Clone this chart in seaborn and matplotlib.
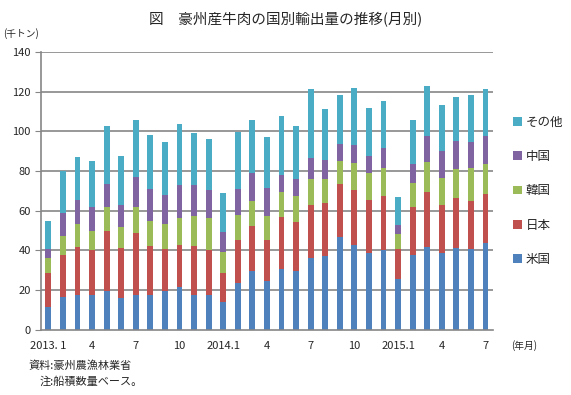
import numpy as np
import pandas as pd
import seaborn as sns
import matplotlib.pyplot as plt

# monthly exports, 2013.1 - 2015.7 (thousand tonnes)
months = [f"{y}.{m}" for y in (2013, 2014, 2015) for m in range(1, 13)][:31]
usa = [11.7, 16.8, 17.8, 17.4, 19.5, 15.8, 17.4, 17.8, 19.5, 21.5, 17.4, 17.4,
       13.8, 23.5, 29.9, 24.8, 30.9, 29.9, 36.4, 37.4, 47.0, 42.6, 38.9, 40.4,
       25.5, 37.6, 41.9, 38.6, 41.4, 40.9, 43.9]
japan = [17.2, 21.1, 24.1, 23.0, 30.5, 25.6, 31.6, 24.6, 21.4, 21.5, 25.0, 23.0,
         15.1, 22.0, 22.6, 20.7, 26.1, 24.6, 26.7, 26.7, 26.7, 28.0, 26.7, 27.2,
         15.4, 24.5, 27.7, 24.5, 25.2, 24.2, 24.7]
korea = [7.5, 9.6, 11.6, 9.6, 12.1, 10.6, 13.1, 12.6, 12.6, 13.5, 15.2, 16.1,
         10.5, 12.6, 12.6, 12.1, 12.6, 13.1, 13.1, 12.1, 11.5, 13.6, 13.6, 14.1,
         7.6, 12.1, 15.1, 13.6, 14.6, 16.6, 15.1]
china = [4.5, 11.6, 12.1, 12.1, 11.6, 11.1, 15.1, 16.1, 14.6, 16.7, 15.6, 14.1,
         10.1, 13.0, 14.1, 14.0, 8.6, 8.6, 10.5, 9.5, 8.6, 9.1, 8.6, 10.1,
         4.2, 9.5, 13.1, 13.6, 14.1, 13.1, 14.1]
other = [14.1, 20.9, 21.6, 23.1, 29.2, 24.7, 28.7, 27.2, 26.7, 30.7, 26.1, 25.7,
         19.6, 28.7, 26.7, 25.7, 29.7, 26.7, 34.8, 25.7, 24.7, 28.7, 24.1, 23.6,
         14.4, 22.2, 25.2, 23.1, 22.1, 23.7, 23.7]

series = ["米国", "日本", "韓国", "中国", "その他"]
colors = ["#4F81BD", "#C0504D", "#9BBB59", "#8064A2", "#4BACC6"]
tick_labels = {0: "2013. 1", 3: "4", 6: "7", 9: "10", 12: "2014.1", 15: "4",
               18: "7", 21: "10", 24: "2015.1", 27: "4", 30: "7"}

df = pd.DataFrame({"month": months, "米国": usa, "日本": japan, "韓国": korea,
                   "中国": china, "その他": other})
cum = df[series].cumsum(axis=1)

sns.set_style("white")
plt.rcParams['font.family'] = ['Noto Sans CJK JP', 'DejaVu Sans']

fig = plt.figure(figsize=(5.71, 3.95), dpi=100)
ax = fig.add_axes([0.072, 0.165, 0.791, 0.703])

# gridlines first, under the bars
for yv in range(20, 141, 20):
    ax.axhline(yv, color="#868686", linewidth=1.2, zorder=1)

# stacked bars: draw cumulative totals from the top series down
for i, (name, col) in enumerate(zip(series[::-1], colors[::-1])):
    sns.barplot(x=df["month"], y=cum[name], color=col, saturation=1,
                width=0.4, ax=ax, label=name, zorder=3 + i, linewidth=0)

ax.set_ylim(0, 140)
ax.set_xlim(-0.5, 30.5)
ax.set_yticks(range(0, 141, 20))
ax.set_xticks(list(tick_labels.keys()))
ax.set_xticklabels(list(tick_labels.values()), fontsize=8)
ax.tick_params(axis="x", length=0, pad=8)
ax.set_xticks(np.arange(-0.5, 31, 1), minor=True)
ax.tick_params(axis="x", which="minor", length=4, color="#868686", width=1)
ax.tick_params(axis="y", length=4, color="#868686", labelsize=8, left=True)
for s in ["top", "right"]:
    ax.spines[s].set_visible(False)
for s in ["left", "bottom"]:
    ax.spines[s].set_color("#868686")
    ax.spines[s].set_linewidth(1.2)
    ax.spines[s].set_zorder(10)
ax.set_xlabel("")
ax.set_ylabel("")

handles, labels = ax.get_legend_handles_labels()
ax.legend(handles, labels, loc="center left", bbox_to_anchor=(1.02, 0.5),
          frameon=False, fontsize=9, handlelength=0.7, handleheight=0.7,
          labelspacing=1.7, handletextpad=0.3)

fig.text(0.5, 0.95, "図　豪州産牛肉の国別輸出量の推移(月別)", ha="center",
         va="center", fontsize=10.5)
fig.text(0.005, 0.915, "(千トン)", ha="left", va="center", fontsize=7)
fig.text(0.895, 0.124, "(年月)", ha="left", va="center", fontsize=7)
fig.text(0.05, 0.075, "資料:豪州農漁林業省", ha="left", va="center", fontsize=8)
fig.text(0.07, 0.035, "注:船積数量ベース。", ha="left", va="center", fontsize=8)

fig.savefig("out.png", dpi=100)
